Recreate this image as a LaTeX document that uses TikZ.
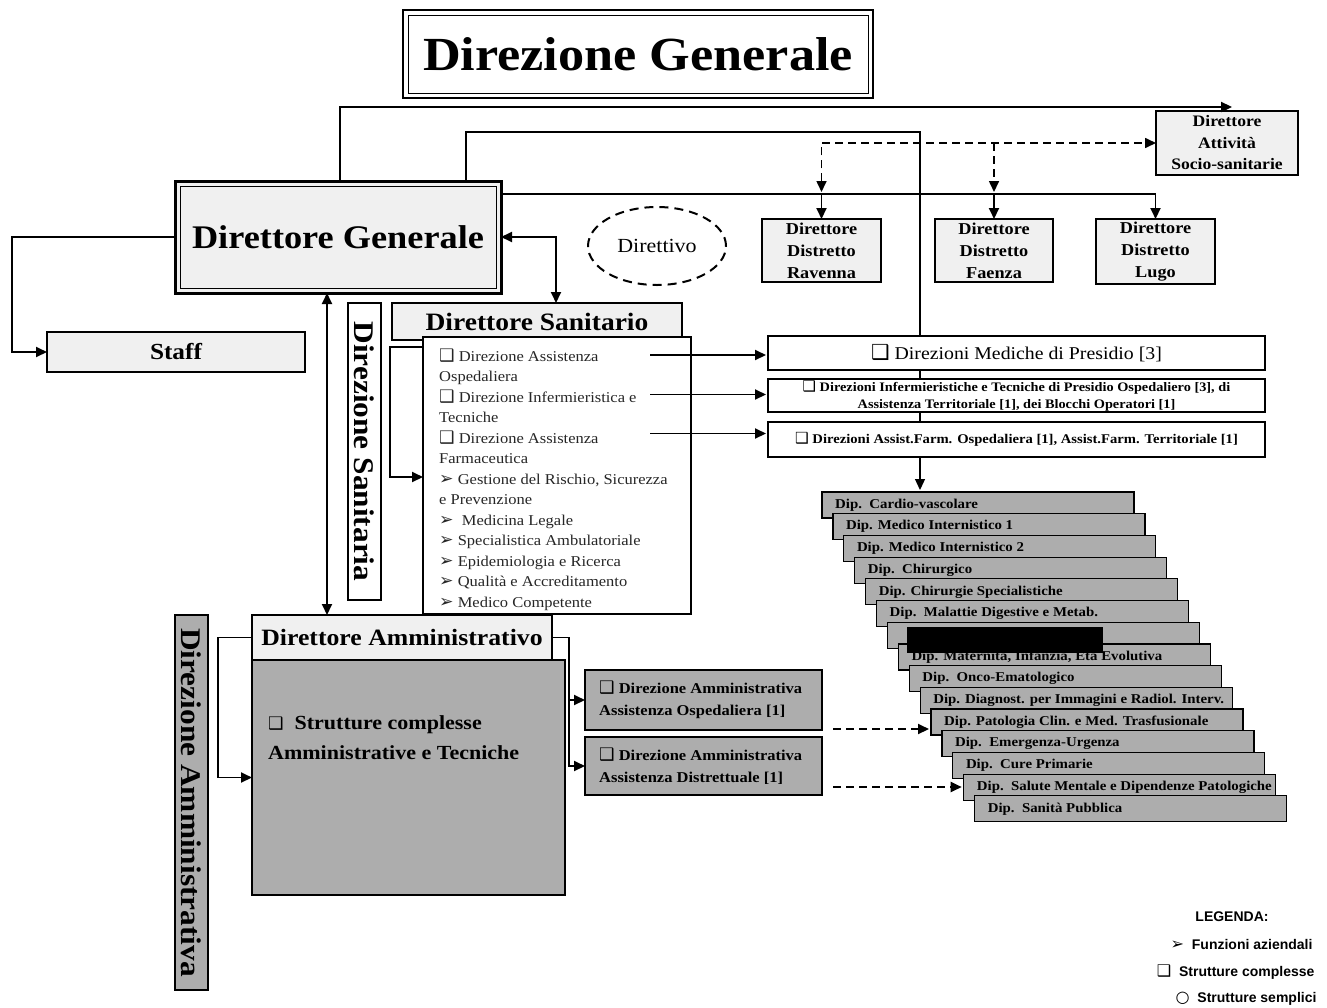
\documentclass[tikz,border=0pt]{standalone}
\usepackage{fontspec}
\setmainfont{Liberation Serif}[FakeStretch=1.1]
\newfontfamily\symf{DejaVu Sans}[Scale=1.15]
\newfontfamily\legf{Liberation Sans}
\usetikzlibrary{arrows.meta,calc,shapes.geometric}
\newcommand\setfs[2]{\fontsize{#1}{#2}\selectfont}
\newcommand\SQ{{\symf ❑}}
\newcommand\AR{{\symf ➢}}
\begin{document}
\begin{tikzpicture}[x=1pt,y=-1pt,
  bx/.style={draw, line width=1.3pt, anchor=north west, inner sep=0pt, outer sep=0pt},
  lt/.style={fill=black!6},
  dk/.style={fill=black!32},
  tip/.style={-{Triangle[length=11pt,width=10pt]}},
  conn/.style={line width=1.9pt, tip},
  conn2/.style={line width=1.9pt, {Triangle[length=11pt,width=10pt]}-{Triangle[length=11pt,width=10pt]}},
  thinl/.style={line width=1.1pt},
  dsh/.style={dash pattern=on 8pt off 5pt, line width=1.6pt}]
\useasboundingbox (0,0) rectangle (1327,1007);
\fill[white] (0,0) rectangle (1327,1007);

% title
\node[bx, line width=2pt, minimum width=470pt, minimum height=88pt] (title) at (403,10) {};
\draw[line width=0.9pt] ($(title.north west)+(5,5)$) rectangle ($(title.south east)+(-5,-5)$);
\node[font=\bfseries\setfs{47.5}{50}] at (title.center) {Direzione Generale};

% Direttore Generale
\node[bx, lt, line width=3pt, minimum width=326pt, minimum height=112pt] (DG) at (175,181) {};
\draw[line width=0.9pt] ($(DG.north west)+(5,5)$) rectangle ($(DG.south east)+(-5,-5)$);
\node[font=\bfseries\setfs{33}{36}] at (DG.center) {Direttore Generale};

% Socio-sanitarie and districts
\node[bx, lt, minimum width=142pt, minimum height=64pt, align=center, font=\bfseries\setfs{16}{21.5}] (socio) at (1156,111) {Direttore\\Attività\\Socio-sanitarie};
\node[bx, lt, minimum width=119pt, minimum height=63pt, align=center, font=\bfseries\setfs{16.6}{22}] (rav) at (762,219) {Direttore\\Distretto\\Ravenna};
\node[bx, lt, minimum width=118pt, minimum height=63pt, align=center, font=\bfseries\setfs{16.6}{22}] (fae) at (935,219) {Direttore\\Distretto\\Faenza};
\node[bx, lt, minimum width=119pt, minimum height=65pt, align=center, font=\bfseries\setfs{16.6}{22}] (lugo) at (1096,219) {Direttore\\Distretto\\Lugo};

% Direttivo
\node[ellipse, draw, dash pattern=on 9pt off 6pt, line width=2pt, minimum width=138pt, minimum height=78pt, inner sep=0pt, font=\setfs{20}{22}] (dir) at (657,246) {Direttivo};

% Staff
\node[bx, lt, minimum width=258pt, minimum height=40pt, font=\bfseries\setfs{23}{25}] (staff) at (47,332) {Staff};

% Direzione Sanitaria column
\node[bx, minimum width=33pt, minimum height=297pt] (dsan) at (348,303) {};
\node[rotate=-90, font=\bfseries\setfs{28.5}{30}] at (dsan.center) {Direzione Sanitaria};
\node[bx, lt, minimum width=290pt, minimum height=37pt, font=\bfseries\setfs{25}{27}] (dsb) at (392,303) {Direttore Sanitario};
\node[bx, fill=white, minimum width=268pt, minimum height=277pt] (list) at (423,337) {};
\foreach \txt [count=\i from 0] in {{\SQ\ Direzione Assistenza}, Ospedaliera, {\SQ\ Direzione Infermieristica e}, Tecniche, {\SQ\ Direzione Assistenza}, Farmaceutica, {\AR\ Gestione del Rischio, Sicurezza}, e Prevenzione, {\AR\ \ Medicina Legale}, {\AR\ Specialistica Ambulatoriale}, {\AR\ Epidemiologia e Ricerca}, {\AR\ Qualità e Accreditamento}, {\AR\ Medico Competente}}
  \node[anchor=base west, inner sep=0pt, text=black!85, font=\setfs{15}{15}] at (439,{361+20.5*\i}) {\txt};

% Dipartimenti stack
\foreach \txt [count=\i from 0] in {Dip.\ \ Cardio-vascolare, Dip. Medico Internistico 1, Dip. Medico Internistico 2, Dip.\ \ Chirurgico, Dip. Chirurgie Specialistiche, Dip.\ \ Malattie Digestive e Metab., {}, {Dip. Maternità, Infanzia, Età Evolutiva}, Dip.\ \ Onco-Ematologico, Dip. Diagnost. per Immagini e Radiol. Interv., Dip. Patologia Clin. e Med. Trasfusionale, Dip.\ \ Emergenza-Urgenza, Dip.\ \ Cure Primarie, Dip.\ \ Salute Mentale e Dipendenze Patologiche, Dip.\ \ Sanità Pubblica}
{
  \node[bx, dk, line width=1.2pt, minimum width=312pt, minimum height=26pt] (dip\i) at ({822+10.9*\i},{492+21.7*\i}) {};
  \node[anchor=west, inner sep=0pt, font=\bfseries\setfs{13.5}{14}] at ($(dip\i.north west)+(13,13)$) {\txt};
  \ifnum\i=7 \fill[black] (907,627) rectangle (1103,653); \fi
}

% Direzione Amministrativa
\node[bx, dk, minimum width=33pt, minimum height=375pt] (damm) at (175,615) {};
\node[rotate=-90, font=\bfseries\setfs{28.5}{30}] at (damm.center) {Direzione Amministrativa};
\node[bx, dk, minimum width=313pt, minimum height=235pt] (big) at (252,660) {};
\node[anchor=base west, inner sep=0pt, font=\bfseries\setfs{20}{20}] at (268,729) {{\symf\setfs{15}{15}❑}\ \ Strutture complesse};
\node[anchor=base west, inner sep=0pt, font=\bfseries\setfs{20}{20}] at (268,759) {Amministrative e Tecniche};
\node[bx, lt, minimum width=300pt, minimum height=45pt, font=\bfseries\setfs{23.4}{25}] (DA) at (252,615) {Direttore Amministrativo};
\node[bx, dk, minimum width=237pt, minimum height=60pt] (dam1) at (585,670) {};
\node[anchor=west, align=left, inner sep=0pt, font=\bfseries\setfs{15}{21.5}] at ($(dam1.west)+(14,0)$) {\SQ\ Direzione Amministrativa\\Assistenza Ospedaliera [1]};
\node[bx, dk, minimum width=237pt, minimum height=58pt] (dam2) at (585,737) {};
\node[anchor=west, align=left, inner sep=0pt, font=\bfseries\setfs{15}{21.5}] at ($(dam2.west)+(14,0)$) {\SQ\ Direzione Amministrativa\\Assistenza Distrettuale [1]};

% connectors
\coordinate (topend) at (1232,107);
\draw[line width=2.2pt, tip] ($(DG.north west)+(165,0)$) |- (topend);
\draw[line width=1.3pt, tip] ($(DG.north west)+(291,0)$) |- ($(dip0.north west)+(98,-360)$) -- ($(dip0.north west)+(98,-2)$);
\draw[thinl] ($(DG.north east)+(0,13)$) -| ($(lugo.north)+(0,-10)$);
\draw[conn] ($(lugo.north)+(0,-12)$) -- (lugo.north);
\draw[conn] ($(rav.north)+(0,-25)$) -- (rav.north);
\draw[conn] ($(fae.north)+(0,-25)$) -- (fae.north);
\draw[dsh, {Triangle[length=11pt,width=10pt]}-{Triangle[length=11pt,width=10pt]}] ($(rav.north)+(0,-27)$) |- (socio.west);
\draw[dsh, tip] ($(fae.north)+(0,-76)$) -- ($(fae.north)+(0,-27)$);
\draw[conn2] (DG.east) -| ($(dsb.north west)+(164,0)$);
\draw[conn] (DG.west) -| ($(staff.west)+(-35,0)$) -- (staff.west);
\draw[conn2] ($(DG.south west)+(152,0)$) -- ($(DA.north west)+(75,0)$);
\draw[conn] ($(list.north west)+(0,10)$) -- ++(-33,0) |- ($(list.north west)+(0,140)$);
\draw[conn] (DA.west) -| ($(big.west)+(-34,0)$) -- (big.west);
\draw[conn] (DA.east) -| ($(dam2.west)+(-16,0)$) -- (dam2.west);
\draw[conn] ($(dam1.west)+(-16,0)$) -- (dam1.west);
\coordinate (d1) at ($(dam1.east)+(11,29)$);
\draw[dsh, line width=2pt, tip] (d1) -- ($(d1 -| dip10.west)+(-2,0)$);
\coordinate (d2) at ($(dam2.east)+(11,21)$);
\draw[dsh, line width=2pt, tip] (d2) -- ($(d2 -| dip13.west)+(-2,0)$);

% Direzioni boxes
\node[bx, fill=white, minimum width=497pt, minimum height=34pt, font=\setfs{18}{20}] (dA) at (768,336) {\SQ\ Direzioni Mediche di Presidio [3]};
\node[bx, fill=white, minimum width=497pt, minimum height=33pt, align=center, font=\bfseries\setfs{13}{17}] (dB) at (768,379) {\SQ\ Direzioni Infermieristiche e Tecniche di Presidio Ospedaliero [3], di\\Assistenza Territoriale [1], dei Blocchi Operatori [1]};
\node[bx, fill=white, minimum width=497pt, minimum height=35pt, font=\bfseries\setfs{13.3}{15}] (dC) at (768,422) {\SQ\ Direzioni Assist.Farm. Ospedaliera [1], Assist.Farm. Territoriale [1]};
\draw[conn] ($(dA.west)+(-118,2)$) -- ($(dA.west)+(-2,2)$);
\draw[conn] ($(dB.west)+(-118,-1)$) -- ($(dB.west)+(-2,-1)$);
\draw[conn] ($(dC.west)+(-118,-6)$) -- ($(dC.west)+(-2,-6)$);

% legend
\node[font=\legf\bfseries\setfs{14}{16}] at (1232,917) {LEGENDA:};
\node[anchor=east, font=\legf\bfseries\setfs{14}{16}] at (1316,944) {\AR\ \ Funzioni aziendali};
\node[anchor=east, font=\legf\bfseries\setfs{14}{16}] at (1318,972) {\SQ\ \ Strutture complesse};
\node[anchor=east, font=\legf\bfseries\setfs{14}{16}] at (1320,999) {{\symf ○}\ \ Strutture semplici};
\end{tikzpicture}
\end{document}
